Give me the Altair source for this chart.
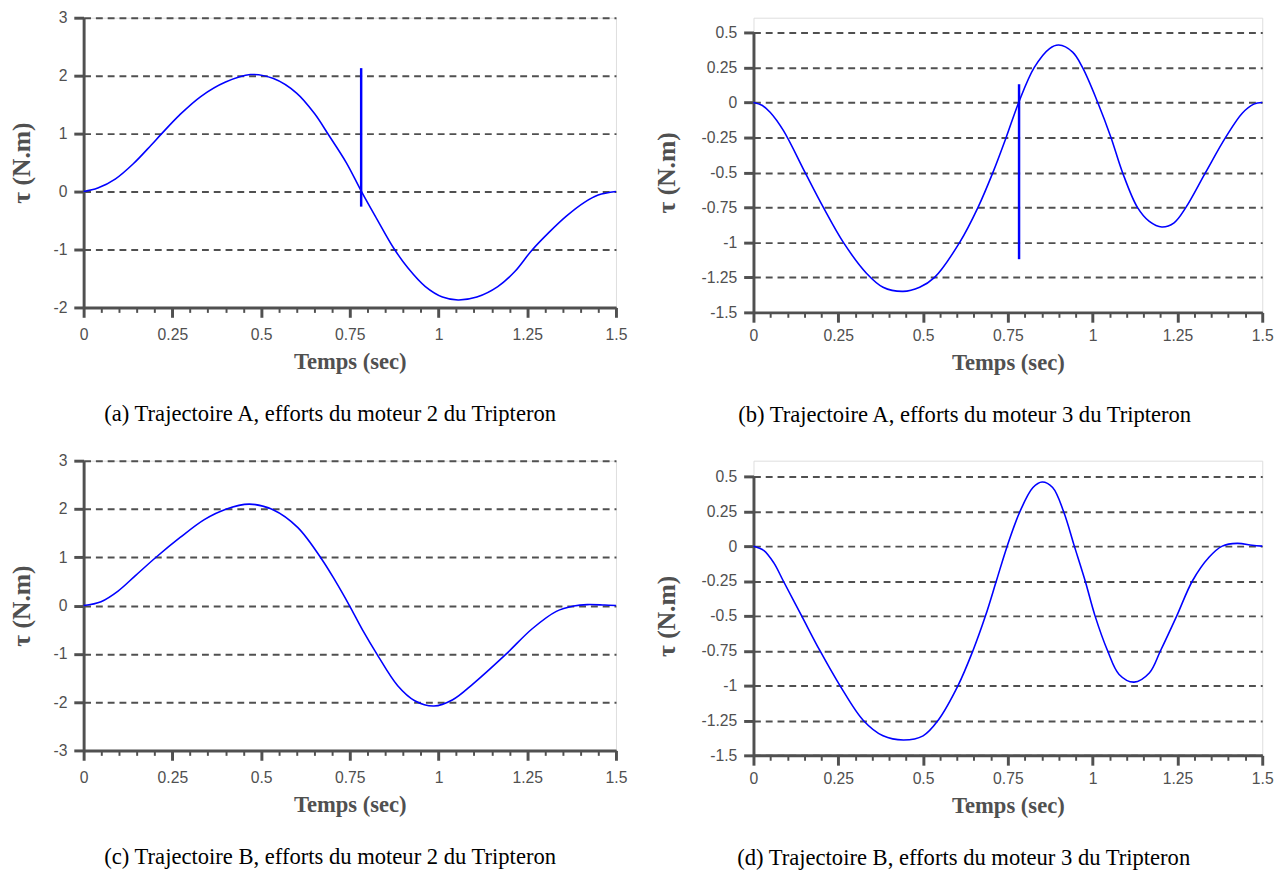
import altair as alt
import pandas as pd

# ---------------- data ----------------
t_a = [0, 0.04, 0.09, 0.14, 0.19, 0.22, 0.27, 0.33, 0.40, 0.47, 0.535, 0.60, 0.65, 0.69, 0.74,
       0.783, 0.826, 0.873, 0.914, 0.963, 1.011, 1.055, 1.108, 1.167, 1.215, 1.262, 1.312,
       1.361, 1.41, 1.45, 1.5]
tau_a = [0, 0.06, 0.22, 0.48, 0.80, 1.0, 1.32, 1.64, 1.89, 2.02, 1.95, 1.70, 1.35, 0.98, 0.50,
         0.0, -0.47, -0.97, -1.32, -1.64, -1.82, -1.87, -1.82, -1.64, -1.38, -1.02, -0.70,
         -0.42, -0.19, -0.06, 0]
spike_a = {"t": 0.782, "lo": -0.26, "hi": 2.13}

t_b = [0, 0.025, 0.049, 0.088, 0.152, 0.206, 0.265, 0.333, 0.382, 0.441, 0.49, 0.534, 0.608,
       0.662, 0.706, 0.745, 0.782, 0.828, 0.873, 0.90, 0.941, 0.97, 1.015, 1.054, 1.088, 1.132,
       1.167, 1.204, 1.24, 1.275, 1.333, 1.392, 1.441, 1.475, 1.5]
tau_b = [0, -0.02, -0.07, -0.2, -0.5, -0.75, -1.0, -1.22, -1.32, -1.35, -1.32, -1.25, -1.0,
         -0.75, -0.5, -0.25, 0, 0.25, 0.385, 0.41, 0.36, 0.25, 0, -0.25, -0.5, -0.75, -0.85,
         -0.89, -0.86, -0.75, -0.5, -0.25, -0.077, -0.012, 0]
spike_b = {"t": 0.783, "lo": -1.12, "hi": 0.13}

t_c = [0, 0.049, 0.097, 0.146, 0.204, 0.272, 0.34, 0.399, 0.467, 0.535, 0.603, 0.671, 0.71,
       0.749, 0.787, 0.826, 0.885, 0.933, 0.987, 1.04, 1.099, 1.191, 1.264, 1.332, 1.381,
       1.419, 1.468, 1.5]
tau_c = [0, 0.08, 0.30, 0.62, 1.0, 1.41, 1.78, 1.99, 2.1, 1.98, 1.62, 0.96, 0.50, 0.0, -0.52,
         -1.0, -1.66, -1.97, -2.08, -1.95, -1.61, -1.0, -0.48, -0.12, -0.01, 0.02, 0.01, 0]

t_d = [0, 0.03, 0.06, 0.088, 0.142, 0.196, 0.255, 0.324, 0.382, 0.443, 0.5, 0.544, 0.603,
       0.647, 0.684, 0.716, 0.748, 0.786, 0.824, 0.851, 0.882, 0.914, 0.946, 0.978, 1.007,
       1.044, 1.078, 1.122, 1.167, 1.2, 1.248, 1.294, 1.343, 1.382, 1.426, 1.47, 1.5]
tau_d = [0, -0.03, -0.12, -0.25, -0.5, -0.75, -1.0, -1.25, -1.36, -1.39, -1.36, -1.25, -1.0,
         -0.75, -0.5, -0.25, 0, 0.25, 0.42, 0.46, 0.42, 0.25, 0, -0.25, -0.5, -0.75, -0.92,
         -0.975, -0.91, -0.75, -0.5, -0.25, -0.08, 0, 0.02, 0.007, 0]

x_ticks = [round(i * 0.05, 2) for i in range(31)]
y_ticks_motor2_A = [-2, -1, 0, 1, 2, 3]
y_ticks_motor2_B = [-3, -2, -1, 0, 1, 2, 3]
y_ticks_motor3 = [-1.5, -1.25, -1, -0.75, -0.5, -0.25, 0, 0.25, 0.5]

captions = [
    "(a)  Trajectoire A, efforts du moteur 2 du Tripteron",
    "(b)  Trajectoire A, efforts du moteur 3 du Tripteron",
    "(c)  Trajectoire B, efforts du moteur 2 du Tripteron",
    "(d)  Trajectoire B, efforts du moteur 3 du Tripteron",
]

AX = "#505050"
SANS = "Liberation Sans"
SERIF = "Liberation Serif"
MAJOR = "abs(datum.value*4 - round(datum.value*4)) < 0.001"


def panel(t, tau, yticks, caption, width, height, y_range, spike=None, label_pad_x=10,
          title_pad_y=28, cap_dx=0):
    df = pd.DataFrame({"t": t, "tau": tau})
    x_axis = alt.Axis(
        values=x_ticks,
        labelExpr=f"({MAJOR}) ? datum.value + '' : ''",
        labelOverlap=False,
        title="Temps (sec)",
        titleFont=SERIF, titleFontSize=23, titleFontWeight="bold", titleColor=AX,
        titlePadding=8,
        labelFont=SANS, labelFontSize=16, labelColor=AX, labelPadding=label_pad_x,
        labelFlush=False,
        tickColor=AX,
        tickSize={"condition": {"test": MAJOR, "value": 10}, "value": 5},
        tickWidth={"condition": {"test": MAJOR, "value": 3}, "value": 2},
        domainColor=AX, domainWidth=3, grid=False,
    )
    y_axis = alt.Axis(
        values=yticks,
        labelExpr="datum.value + ''",
        labelOverlap=False,
        title="τ (N.m)",
        titleFont=SERIF, titleFontSize=26, titleFontWeight="bold", titleColor=AX,
        titlePadding=title_pad_y,
        labelFont=SANS, labelFontSize=16, labelColor=AX, labelPadding=7,
        labelFlush=False,
        tickColor=AX, tickSize=10, tickWidth=3,
        domainColor=AX, domainWidth=3,
        grid=True, gridColor=AX, gridDash=[7, 5], gridWidth=2,
    )
    x_scale = alt.Scale(domain=[0, 1.5], nice=False, zero=False)
    y_scale = alt.Scale(domain=[min(yticks), max(yticks)], range=y_range, nice=False, zero=False)
    line = alt.Chart(df).mark_line(color="#0000ff", strokeWidth=1.6,
                                   interpolate="catmull-rom").encode(
        x=alt.X("t:Q", scale=x_scale, axis=x_axis),
        y=alt.Y("tau:Q", scale=y_scale, axis=y_axis),
    )
    layers = [line]
    if spike is not None:
        sdf = pd.DataFrame([spike])
        rule = alt.Chart(sdf).mark_rule(color="#0000ff", strokeWidth=2.5).encode(
            x=alt.X("t:Q", scale=x_scale, axis=x_axis),
            y=alt.Y("lo:Q", scale=y_scale, axis=y_axis),
            y2="hi:Q",
        )
        layers.append(rule)
    return alt.layer(*layers).properties(
        width=width, height=height,
        title=alt.TitleParams(caption, orient="bottom", font=SERIF, fontSize=23,
                              fontWeight="normal", color="black", offset=31, dx=cap_dx,
                              anchor="middle"),
    )


# right-hand panels: plot box shares the top of the left one, axis starts a little lower
pa = panel(t_a, tau_a, y_ticks_motor2_A, captions[0], 542, 295, [295, 0], spike_a, 10, 19, -20)
pb = panel(t_b, tau_b, y_ticks_motor3, captions[1], 518, 300, [300, 15], spike_b, 6, 22, -44)
pc = panel(t_c, tau_c, y_ticks_motor2_B, captions[2], 542, 295, [295, 0], None, 10, 19, -20)
pd_ = panel(t_d, tau_d, y_ticks_motor3, captions[3], 518, 300, [300, 16], None, 6, 22, -45)

row1 = alt.hconcat(pa, pb, spacing=26)
row2 = alt.hconcat(pc, pd_, spacing=26)

chart = alt.vconcat(row1, row2, spacing=24).properties(
    padding={"left": 0, "top": -7, "right": 2, "bottom": 0}
).configure_view(stroke=None).configure(background="white")

chart.save("out.html", embed_options={"renderer": "svg", "actions": False})
